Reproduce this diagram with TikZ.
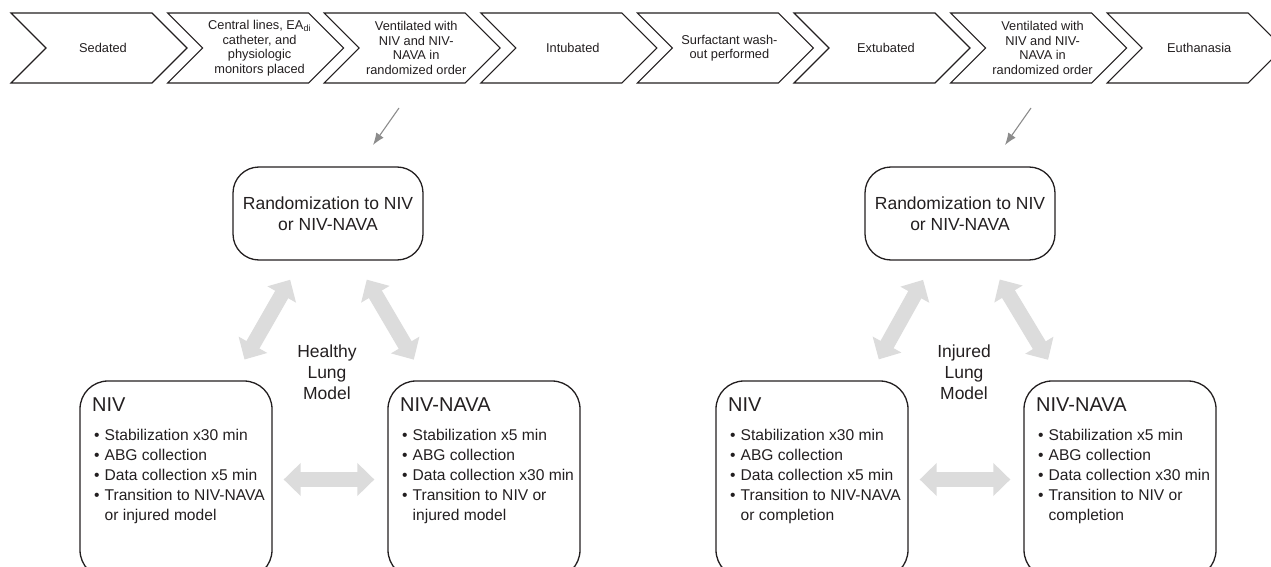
\documentclass[tikz,border=0pt]{standalone}
\usepackage{fontspec}
\setmainfont{Liberation Sans}
\usetikzlibrary{arrows.meta}
\definecolor{txt}{HTML}{231F20}
\definecolor{biggray}{HTML}{DCDCDC}
\definecolor{thingray}{HTML}{8C8C8C}
\tikzset{
  chevline/.style={draw=txt, line width=1.1pt, fill=white, line join=miter},
  chevtext/.style={text=txt, align=center, inner sep=0pt, font=\fontsize{12.8}{14.6}\selectfont},
  randbox/.style={draw=txt, line width=1.3pt, rounded corners=26pt, minimum width=190pt, minimum height=93pt, align=center, text=txt, inner sep=0pt, font=\fontsize{17.5}{21}\selectfont},
  armbox/.style={draw=txt, line width=1.3pt, rounded corners=28pt, minimum width=192pt, minimum height=197pt, inner sep=0pt},
  armtitle/.style={text=txt, inner sep=0pt, anchor=west, font=\fontsize{20}{24}\selectfont},
  armlist/.style={text=txt, inner sep=0pt, anchor=base west, font=\fontsize{15.6}{20}\selectfont},
  modeltext/.style={text=txt, align=center, inner sep=0pt, font=\fontsize{17.5}{21}\selectfont},
  bigarrow/.style={draw=biggray, line width=15pt, {Triangle[width=32pt,length=17pt]}-{Triangle[width=32pt,length=17pt]}},
  thinarrow/.style={draw=thingray, line width=1.1pt, -{Latex[length=12pt,width=9pt]}},
}
\newcommand\chev[3]{%
  \pgfmathsetmacro\chL{11+156.6*#1}%
  \draw[chevline] (\chL,13) -- ++(141,0) -- ++(35,35) -- ++(-35,35) -- ++(-141,0) -- ++(35,-35) -- cycle;
  \node[chevtext] (#2) at (\chL+92,48) {#3};
}
\newcommand\armlistA[2]{%
  \begin{tabular}[t]{@{}l@{\hspace{5pt}}l@{}}
  \textbullet & Stabilization x#1 min\\
  \textbullet & ABG collection\\
  \textbullet & Data collection x#2 min\\
  \end{tabular}}
\begin{document}
\begin{tikzpicture}[x=1pt,y=-1pt]
\useasboundingbox (0,0) rectangle (1271,567);
\clip (0,0) rectangle (1271,567);
% top chevrons
\chev{0}{c1}{Sedated}
\chev{1}{c2}{Central lines, EA\textsubscript{di}\\catheter, and\\physiologic\\monitors placed}
\chev{2}{c3}{Ventilated with\\NIV and NIV-\\NAVA in\\randomized order}
\chev{3}{c4}{Intubated}
\chev{4}{c5}{Surfactant wash-\\out performed}
\chev{5}{c6}{Extubated}
\chev{6}{c7}{Ventilated with\\NIV and NIV-\\NAVA in\\randomized order}
\chev{7}{c8}{Euthanasia}

% ---------- healthy group ----------
\node[randbox] (r1) at (328,213.5) {Randomization to NIV\\or NIV-NAVA};
\node[armbox] (n1) at (176,479.5) {};
\node[armbox] (v1) at (484,479.5) {};
\node[modeltext] (m1) at (327,372) {Healthy\\Lung\\Model};
\node[armtitle] (n1t) at (92,405) {NIV};
\node[armlist] (n1l) at (94,440.5) {\begin{tabular}[t]{@{}l@{\hspace{5pt}}l@{}}
  \textbullet & Stabilization x30 min\\
  \textbullet & ABG collection\\
  \textbullet & Data collection x5 min\\
  \textbullet & Transition to NIV-NAVA\\
  & or injured model
  \end{tabular}};
\node[armtitle] (v1t) at (400,405) {NIV-NAVA};
\node[armlist] (v1l) at (402,440.5) {\begin{tabular}[t]{@{}l@{\hspace{5pt}}l@{}}
  \textbullet & Stabilization x5 min\\
  \textbullet & ABG collection\\
  \textbullet & Data collection x30 min\\
  \textbullet & Transition to NIV or\\
  & injured model
  \end{tabular}};
\draw[bigarrow, shorten <=22pt, shorten >=24pt] (r1) -- (n1);
\draw[bigarrow, shorten <=22pt, shorten >=24pt] (r1) -- (v1);
\draw[bigarrow, shorten <=11pt, shorten >=13pt] (n1) -- (v1);
\coordinate (a1s) at (399,108);
\coordinate (a1e) at (373,145);
\draw[thinarrow] (a1s) -- (a1e);

% ---------- injured group ----------
\node[randbox] (r2) at (960,213.5) {Randomization to NIV\\or NIV-NAVA};
\node[armbox] (n2) at (812,479.5) {};
\node[armbox] (v2) at (1120,479.5) {};
\node[modeltext] (m2) at (964,372) {Injured\\Lung\\Model};
\node[armtitle] (n2t) at (728,405) {NIV};
\node[armlist] (n2l) at (730,440.5) {\begin{tabular}[t]{@{}l@{\hspace{5pt}}l@{}}
  \textbullet & Stabilization x30 min\\
  \textbullet & ABG collection\\
  \textbullet & Data collection x5 min\\
  \textbullet & Transition to NIV-NAVA\\
  & or completion
  \end{tabular}};
\node[armtitle] (v2t) at (1036,405) {NIV-NAVA};
\node[armlist] (v2l) at (1038,440.5) {\begin{tabular}[t]{@{}l@{\hspace{5pt}}l@{}}
  \textbullet & Stabilization x5 min\\
  \textbullet & ABG collection\\
  \textbullet & Data collection x30 min\\
  \textbullet & Transition to NIV or\\
  & completion
  \end{tabular}};
\draw[bigarrow, shorten <=22pt, shorten >=24pt] (r2) -- (n2);
\draw[bigarrow, shorten <=22pt, shorten >=24pt] (r2) -- (v2);
\draw[bigarrow, shorten <=11pt, shorten >=13pt] (n2) -- (v2);
\coordinate (a2s) at (1031,108);
\coordinate (a2e) at (1005,145);
\draw[thinarrow] (a2s) -- (a2e);
\end{tikzpicture}
\end{document}
